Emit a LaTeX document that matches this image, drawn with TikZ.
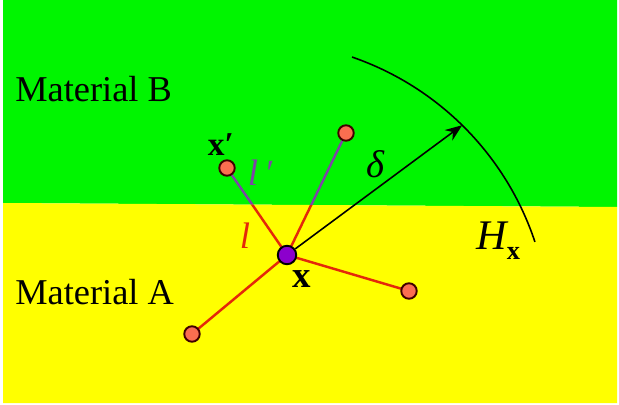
\documentclass[tikz,border=0pt]{standalone}
\usepackage{fontspec}
\setmainfont{Liberation Serif}
\usepackage{tikz}
\usetikzlibrary{arrows.meta, backgrounds, calc}
\definecolor{cGreen}{RGB}{0,245,0}
\definecolor{cYellow}{RGB}{255,255,0}
\definecolor{cBond}{RGB}{228,40,10}
\definecolor{cCross}{RGB}{125,70,165}
\definecolor{cSite}{RGB}{250,110,80}
\definecolor{cCentre}{RGB}{140,0,205}
\tikzset{
	site/.style   ={circle, draw=black!75!red, line width=1.1pt, fill=cSite, minimum size=0.31cm, inner sep=0pt},
	centre/.style ={circle, draw=black, line width=1.1pt, fill=cCentre, minimum size=0.37cm, inner sep=0pt},
	bondA/.style  ={cBond, line width=1.4pt},
	bondB/.style  ={cCross, line width=1.4pt},
	% label styles
	matlbl/.style ={anchor=base west, inner sep=0pt, font=\fontsize{20.7}{24}\selectfont},
	ptlbl/.style  ={inner sep=0pt, font=\fontsize{21}{24}\selectfont\bfseries},
	itlbl/.style  ={inner sep=0pt, font=\fontsize{21}{24}\selectfont\itshape},
}

\begin{document}
\begin{tikzpicture}[x=0.02cm, y=-0.02cm]
	\useasboundingbox (0,0) rectangle (619,405);
	\node[centre] (xc) at (287,255) {};
	\node[site] (xp) at (227,168) {};
	\node[site] (st) at (346,133) {};
	\node[site] (sr) at (409,291) {};
	\node[site] (sb) at (192,334) {};
	\coordinate (hc) at (256.5,334.5);
	\path (hc) ++(45.5:5.87cm) coordinate (tip);
	\begin{scope}[on background layer]
		\fill[white] (0,0) rectangle (619,405);
		\fill[cGreen] (3,0) -- (617,0) -- (617,207) -- (3,203) -- cycle;
		\fill[cYellow] (3,203) -- (617,207) -- (617,403) -- (3,403) -- cycle;
		% bonds change colour where they cross into material B
		\begin{scope}
			\clip (3,0) -- (617,0) -- (617,207) -- (3,203) -- cycle;
			\draw[bondB] (xc.center) -- (xp.center) (xc.center) -- (st.center);
		\end{scope}
		\begin{scope}
			\clip (3,203) -- (617,207) -- (617,403) -- (3,403) -- cycle;
			\draw[bondA] (xc.center) -- (xp.center) (xc.center) -- (st.center);
		\end{scope}
		\draw[bondA] (xc.center) -- (sr.center) (xc.center) -- (sb.center);
	\end{scope}
	\draw[-{Stealth[length=3.4mm, width=2.6mm]}, line width=0.9pt] (xc) -- (tip);
	\draw[line width=0.9pt] (hc) ++(71:5.87cm) arc[start angle=71, end angle=18.4, radius=5.87cm];
	\node[matlbl] (lblB) at (15,102) {Material B};
	\node[matlbl] (lblA) at (15,305) {Material A};
	\node[ptlbl, font=\fontsize{19}{20}\selectfont\bfseries] (lxp) at (221,145) {x′};
	\node[ptlbl] (lxc) at (302,279) {x};
	\node[itlbl, text=cCross] (llp) at (260,173) {l\,′};
	\node[itlbl, text=cBond] (ll) at (245,236) {l};
	\node[itlbl, font=\fontsize{22}{24}\selectfont\itshape] (ldelta) at (375,164) {δ};
	\node[anchor=base west, inner sep=0pt, font=\fontsize{24}{24}\selectfont\itshape] (lH) at (476,250)
		{H\raisebox{-5.5pt}{\fontsize{15}{15}\selectfont\bfseries\upshape x}};
\end{tikzpicture}
\end{document}
